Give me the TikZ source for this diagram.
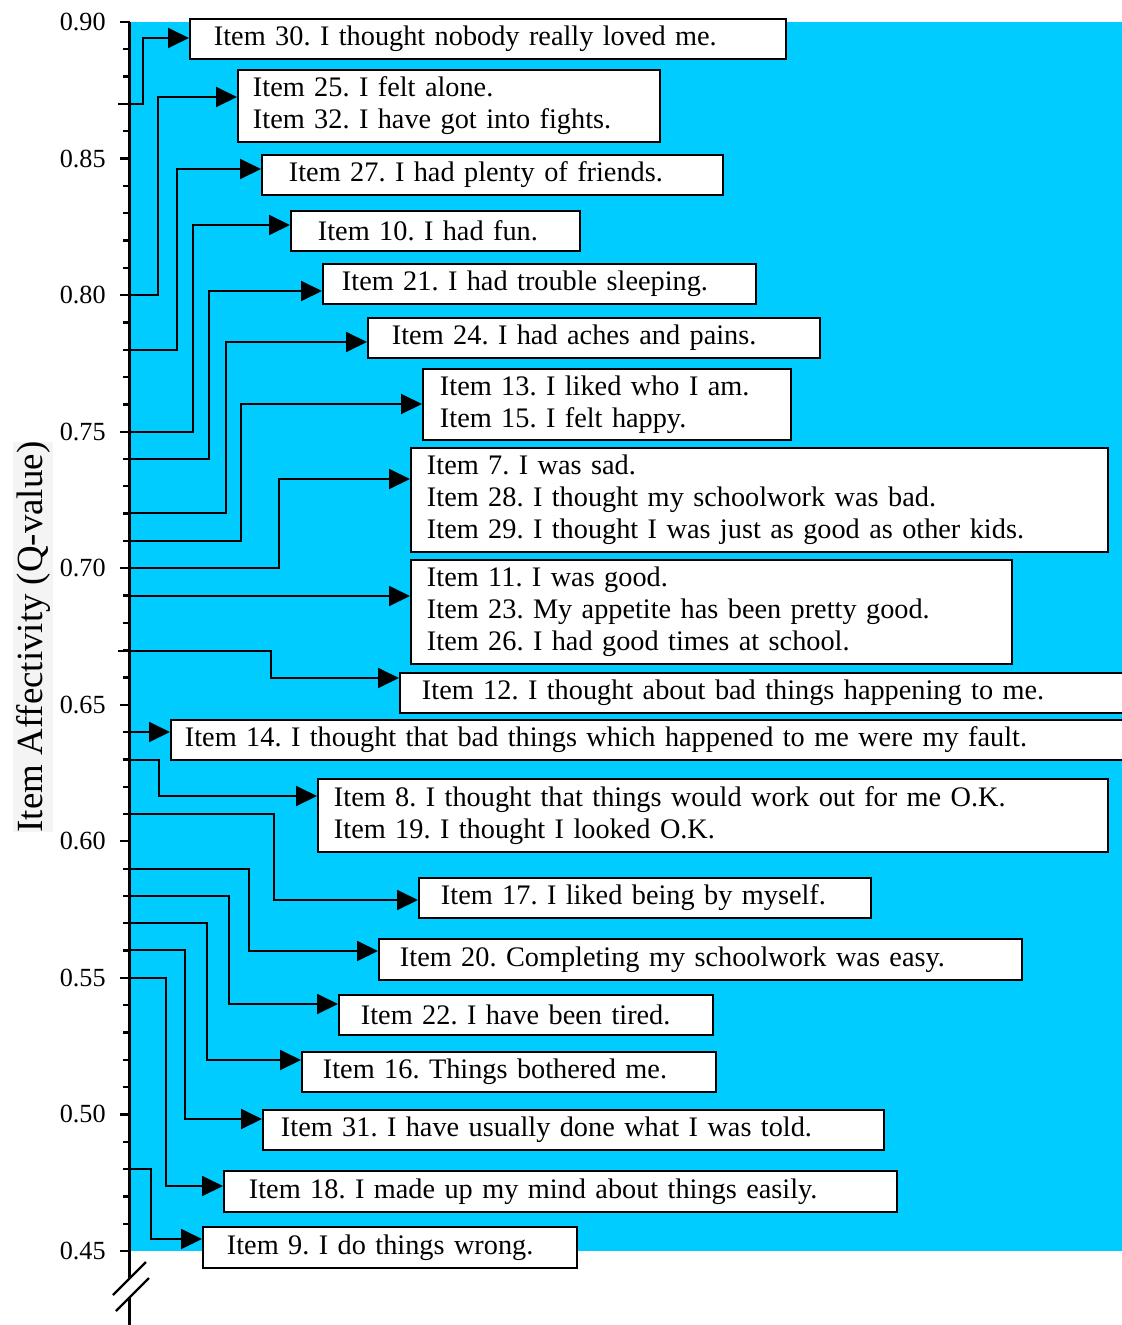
\documentclass[tikz,border=0pt]{standalone}
\usepackage{fontspec}
\setmainfont{Liberation Serif}
\frenchspacing
\usetikzlibrary{arrows.meta}
\definecolor{ChartCyan}{HTML}{00CCFF}
\definecolor{TitleGray}{HTML}{F4F4F4}
\tikzset{
    % white item boxes, placed by their top left corner
    item box/.style={
        rectangle,
        draw=black,
        fill=white,
        line width=1.1pt,
        anchor=north west,
        inner ysep=0pt,
        align=left,
        font=\fontsize{16.1}{18.2}\selectfont
    },
    arrow style/.style={
        -{Triangle[length=0.42cm, width=0.4cm]},
        line width=1.1pt,
        black
    },
    axis line/.style={
        line width=1.3pt,
        black
    },
    tick label/.style={
        anchor=east,
        inner sep=0pt,
        font=\fontsize{14.9}{16}\selectfont
    }
}

\begin{document}
\begin{tikzpicture}[x=0.02cm, y=-0.02cm]
    \useasboundingbox (0,0) rectangle (1122,1325);

    % plot area
    \fill[ChartCyan] (129,22) rectangle (1122,1251);

    % axis title
    \node[rotate=90, fill=TitleGray, minimum width=7.74cm, minimum height=0.8cm,
          inner sep=0pt, font=\fontsize{21}{22}\selectfont] (ytitle) at (33,637)
          {Item Affectivity (Q-value)};

    % axis with break
    \draw[axis line] (129.5,22) -- (129.5,1279);
    \draw[axis line] (129.5,1298) -- (129.5,1325);
    \draw[axis line] (113,1295) -- (146,1262);
    \draw[axis line] (116,1311) -- (149,1278);

    % ticks
    \foreach \k in {0,...,45}
        \draw[axis line] (123,22+\k*27.311) -- (129.5,22+\k*27.311);
    \foreach \k/\lab in {0/0.90, 5/0.85, 10/0.80, 15/0.75, 20/0.70, 25/0.65, 30/0.60, 35/0.55, 40/0.50, 45/0.45} {
        \draw[axis line] (120,22+\k*27.311) -- (129.5,22+\k*27.311);
        \node[tick label] (tick\k) at (106,22+\k*27.311) {\lab};
    }

    % Item boxes
    \node[item box, text width=10.96cm, inner xsep=0.48cm, minimum height=0.8cm] (i30) at (189,18)
        {Item 30. I thought nobody really loved me.};
    \node[item box, text width=7.84cm, inner xsep=0.30cm, minimum height=1.44cm] (i25) at (237,69)
        {Item 25. I felt alone.\\Item 32. I have got into fights.};
    \node[item box, text width=8.14cm, inner xsep=0.54cm, minimum height=0.8cm] (i27) at (261,154)
        {Item 27. I had plenty of friends.};
    \node[item box, text width=4.70cm, inner xsep=0.54cm, minimum height=0.8cm] (i10) at (290,210)
        {Item 10. I had fun.};
    \node[item box, text width=7.90cm, inner xsep=0.38cm, minimum height=0.81cm] (i21) at (322,263)
        {Item 21. I had trouble sleeping.};
    \node[item box, text width=8.08cm, inner xsep=0.48cm, minimum height=0.8cm] (i24) at (367,317)
        {Item 24. I had aches and pains.};
    \node[item box, text width=6.68cm, inner xsep=0.34cm, minimum height=1.42cm] (i13) at (422,368)
        {Item 13. I liked who I am.\\Item 15. I felt happy.};
    \node[item box, text width=13.30cm, inner xsep=0.32cm, minimum height=2.08cm] (i7) at (410,447)
        {Item 7. I was sad.\\Item 28. I thought my schoolwork was bad.\\Item 29. I thought I was just as good as other kids.};
    \node[item box, text width=11.38cm, inner xsep=0.32cm, minimum height=2.08cm] (i11) at (410,559)
        {Item 11. I was good.\\Item 23. My appetite has been pretty good.\\Item 26. I had good times at school.};
    \node[item box, text width=13.66cm, inner xsep=0.44cm, minimum height=0.8cm] (i12) at (399,672)
        {Item 12. I thought about bad things happening to me.};
    \node[item box, text width=18.56cm, inner xsep=0.28cm, minimum height=0.8cm] (i14) at (170,719)
        {Item 14. I thought that bad things which happened to me were my fault.};
    \node[item box, text width=15.16cm, inner xsep=0.32cm, minimum height=1.46cm] (i8) at (317,778)
        {Item 8. I thought that things would work out for me O.K.\\Item 19. I thought I looked O.K.};
    \node[item box, text width=8.16cm, inner xsep=0.44cm, minimum height=0.8cm] (i17) at (418,877)
        {Item 17. I liked being by myself.};
    \node[item box, text width=12.02cm, inner xsep=0.42cm, minimum height=0.82cm] (i20) at (378,938)
        {Item 20. Completing my schoolwork was easy.};
    \node[item box, text width=6.60cm, inner xsep=0.44cm, minimum height=0.8cm] (i22) at (338,994)
        {Item 22. I have been tired.};
    \node[item box, text width=7.44cm, inner xsep=0.42cm, minimum height=0.8cm] (i16) at (301,1051)
        {Item 16. Things bothered me.};
    \node[item box, text width=11.70cm, inner xsep=0.36cm, minimum height=0.8cm] (i31) at (262,1109)
        {Item 31. I have usually done what I was told.};
    \node[item box, text width=12.46cm, inner xsep=0.50cm, minimum height=0.82cm] (i18) at (223,1170)
        {Item 18. I made up my mind about things easily.};
    \node[item box, text width=6.52cm, inner xsep=0.48cm, minimum height=0.82cm] (i9) at (202,1226)
        {Item 9. I do things wrong.};

    % connector start points (on the axis) and bend points
    \coordinate (s30) at (118,104);   \coordinate (b30) at (143,38);
    \coordinate (s25) at (120,295);   \coordinate (b25) at (158,97);
    \coordinate (s27) at (123,350);   \coordinate (b27) at (177,169);
    \coordinate (s10) at (120,432);   \coordinate (b10) at (193,225);
    \coordinate (s21) at (123,459);   \coordinate (b21) at (209,291);
    \coordinate (s24) at (123,513);   \coordinate (b24) at (226,342);
    \coordinate (s13) at (123,541);   \coordinate (b13) at (241,404);
    \coordinate (s7)  at (120,568);   \coordinate (b7)  at (279,479);
    \coordinate (s11) at (123,596);
    \coordinate (s12) at (118,651);   \coordinate (b12) at (271,678);
    \coordinate (s14) at (129,732);
    \coordinate (s8)  at (123,760);   \coordinate (b8)  at (159,796);
    \coordinate (s17) at (123,814);   \coordinate (b17) at (274,900);
    \coordinate (s20) at (123,869);   \coordinate (b20) at (249,951);
    \coordinate (s22) at (123,896);   \coordinate (b22) at (229,1004);
    \coordinate (s16) at (123,923);   \coordinate (b16) at (207,1060);
    \coordinate (s31) at (123,950);   \coordinate (b31) at (185,1119);
    \coordinate (s18) at (120,978);   \coordinate (b18) at (166,1186);
    \coordinate (s9)  at (129,1169);  \coordinate (b9)  at (151,1239);

    % connectors
    \foreach \n in {30,25,27,10,21,24,13,7,12,8,17,20,22,16,31,18,9}
        \draw[arrow style] (s\n) -| (b\n) -- (i\n.west |- b\n);
    \draw[arrow style] (s11) -- (i11.west |- s11);
    \draw[arrow style] (s14) -- (i14.west |- s14);
\end{tikzpicture}
\end{document}
